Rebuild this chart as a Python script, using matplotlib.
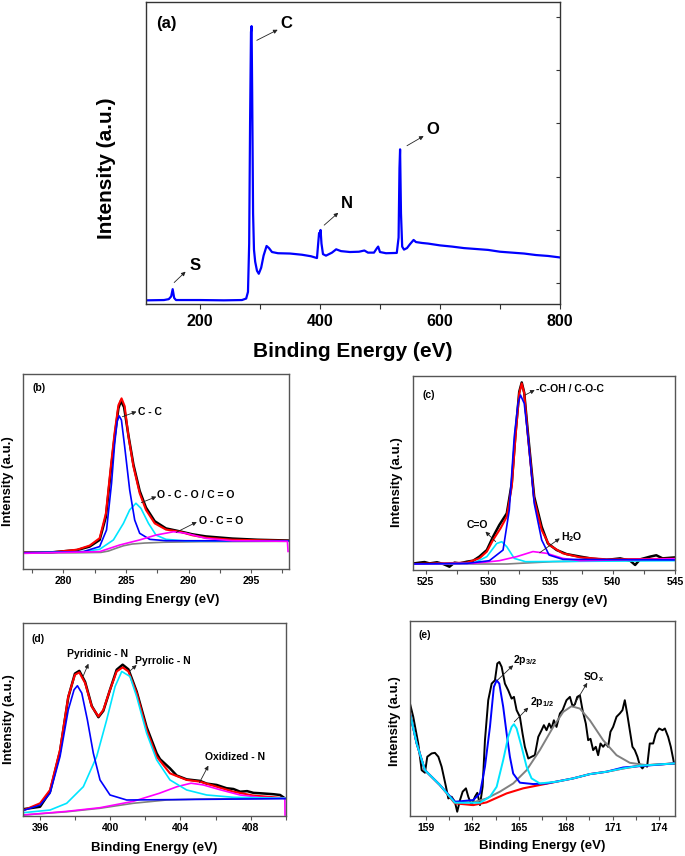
import matplotlib.pyplot as plt

plt.rcParams['font.family'] = ['Liberation Sans', 'DejaVu Sans']
plt.rcParams['font.weight'] = 'bold'
plt.rcParams['mathtext.fontset'] = 'custom'
plt.rcParams['mathtext.rm'] = 'Liberation Sans:bold'
plt.rcParams['mathtext.bf'] = 'Liberation Sans:bold'
plt.rcParams['mathtext.default'] = 'bf'

# ---- (a) survey spectrum: (binding energy, intensity) ----
survey = [(110, 1.2), (140, 1.3), (148, 1.6), (152, 2.5), (154.5, 4.9), (157, 2.0), (160, 1.3),
          (200, 1.3), (240, 1.2), (270, 1.3), (277, 1.8), (280, 4), (282, 20), (283.5, 60),
          (285, 90), (286, 92), (287, 70), (288.5, 30), (290, 18), (292, 14), (295, 11),
          (298, 10), (302, 12), (306, 16), (311, 19.2), (315, 18.5), (320, 17.2), (330, 16.8),
          (350, 16.7), (370, 16.3), (385, 15.8), (395, 15.2), (397, 20), (398.5, 23.5),
          (400, 22.5), (401, 24.5), (402.5, 20), (405, 16.5), (410, 16.0), (420, 17.0),
          (427, 18.1), (435, 17.5), (450, 17.2), (465, 17.3), (474, 17.7), (480, 17.0),
          (490, 17.0), (495, 18.5), (497, 19.0), (500, 17.2), (510, 16.8), (528, 16.9),
          (531, 22), (532.5, 45), (533.5, 51.2), (535, 30), (537, 19), (540, 18.0),
          (545, 18.5), (550, 19.8), (556, 21.2), (560, 20.5), (570, 20.2), (580, 20.0),
          (600, 19.4), (620, 19.0), (640, 18.5), (660, 18.2), (680, 17.9), (700, 17.3),
          (720, 17.0), (740, 16.7), (760, 16.2), (780, 15.9), (800, 15.4)]
survey_yticks = [6.8, 24.5, 42.1, 59.8, 77.4, 95.1]

# ---- (b) C 1s ----
b_black = [(276.8, 8.4), (279, 8.5), (281.1, 9.7), (282.1, 11.5), (282.9, 14.9), (283.4, 26.8),
           (283.8, 50.8), (284.1, 67.9), (284.4, 82.4), (284.6, 86.2), (284.85, 83.0), (285.2, 68.5),
           (285.6, 53.5), (286.1, 40.0), (286.6, 31.5), (287.3, 24.5), (288.2, 20.8), (289.3, 19.3),
           (290.3, 17.8), (291.4, 16.7), (293.5, 15.6), (295.5, 15.0), (298, 14.6)]
b_red = [(276.8, 8.4), (279, 8.5), (281.1, 9.9), (282.1, 12.0), (282.9, 15.8), (283.4, 28.5),
         (283.8, 53.0), (284.1, 70.0), (284.4, 84.0), (284.65, 87.5), (284.9, 83.5), (285.2, 68.0),
         (285.6, 52.5), (286.1, 38.8), (286.6, 30.3), (287.3, 23.4), (288.2, 20.2), (289.3, 19.1),
         (290.3, 17.3), (291.4, 16.0), (293.5, 15.0), (298, 14.4)]
b_blue = [(276.8, 8.3), (281.6, 8.9), (282.9, 11.5), (283.45, 20.0), (283.85, 43.9), (284.1, 64.4),
          (284.3, 75.6), (284.46, 78.5), (284.64, 76.4), (284.9, 62.7), (285.3, 40.5), (285.7, 25.1),
          (286.1, 18.3), (286.9, 15.2), (288.2, 14.5), (298, 14.4)]
b_cyan = [(276.8, 8.3), (281.6, 8.9), (282.9, 10.1), (284.0, 14.9), (284.8, 23.4), (285.3, 30.3),
          (285.8, 33.7), (286.2, 31.1), (286.8, 23.4), (287.4, 17.4), (288.2, 15.2), (289.8, 14.4),
          (298, 14.4)]
b_magenta = [(276.8, 8.0), (282.9, 8.9), (284.5, 12.3), (286.1, 14.9), (287.4, 17.4), (288.8, 19.1),
             (289.8, 18.3), (291.4, 15.7), (293.5, 14.5), (297.9, 14.2), (297.95, 9.0)]
b_gray = [(276.8, 8.3), (281, 8.3), (283.0, 8.5), (283.6, 9.2), (284.2, 10.6), (284.8, 11.9),
          (285.5, 12.8), (286.5, 13.3), (288, 13.7), (291, 14.0), (298, 14.2)]

# ---- (c) O 1s ----
c_black = [(524.04, 3.4), (524.5, 3.8), (524.9, 4.1), (525.3, 3.4), (525.9, 4.0), (526.4, 3.1),
           (526.9, 1.7), (527.3, 3.8), (527.7, 3.4), (528.3, 4.3), (528.8, 4.8), (529.3, 6.9),
           (529.9, 10.3), (530.4, 17.2), (530.9, 23.2), (531.5, 29.2), (531.9, 44.7), (532.2, 70.4),
           (532.5, 91.9), (532.7, 96.7), (532.9, 91.4), (533.2, 70.4), (533.7, 37.8), (534.3, 22.3),
           (534.8, 13.7), (535.5, 10.3), (536.3, 8.2), (537.4, 6.9), (538.4, 5.8), (539.5, 5.2),
           (540.6, 6.0), (541.4, 4.8), (541.8, 2.6), (542.2, 5.5), (543.0, 6.9), (543.5, 7.6),
           (544.0, 6.0), (545, 6.5)]
c_red = [(524, 3.1), (528.3, 3.8), (529.3, 6.0), (529.9, 9.5), (530.4, 15.5), (531, 21.5),
         (531.5, 27.5), (531.9, 43.0), (532.2, 68.7), (532.5, 91.1), (532.7, 96.2), (532.9, 91.1),
         (533.2, 68.7), (533.7, 36.1), (534.3, 20.6), (534.9, 12.9), (536, 8.6), (537.4, 6.5),
         (539.5, 5.5), (545, 5.8)]
c_blue = [(524, 3.1), (528.3, 3.4), (530.1, 4.8), (531.2, 10.3), (531.7, 30.9), (532.1, 68.7),
          (532.4, 85.9), (532.6, 90.2), (532.9, 85.9), (533.2, 68.7), (533.7, 34.4), (534.3, 15.5),
          (534.9, 7.7), (536, 5.5), (545, 5.2)]
c_cyan = [(524, 3.1), (528.8, 3.4), (529.9, 6.9), (530.7, 13.7), (531.1, 14.6), (531.5, 12.0),
          (532.1, 6.0), (533.0, 4.3), (545, 4.8)]
c_magenta = [(524, 3.1), (528.8, 3.4), (530.9, 4.8), (532.3, 6.9), (533.6, 9.5), (534.7, 8.6),
             (536, 6.0), (537.4, 4.8), (545, 5.8)]
c_gray = [(524, 3.1), (531.5, 3.1), (533, 3.6), (535.2, 4.3), (540, 4.9), (545, 5.2)]

# ---- (d) N 1s ----
d_black = [(395, 3.5), (395.99, 4.8), (396.56, 12.6), (397.13, 33.5), (397.6, 61.5), (397.98, 73.8),
           (398.23, 75.2), (398.56, 69.5), (398.94, 57.0), (399.32, 51.2), (399.6, 54.5),
           (399.98, 65.4), (400.36, 75.8), (400.7, 78.4), (401.03, 76.0), (401.5, 64.5),
           (402.07, 46.0), (402.64, 32.5), (402.83, 29.5), (403.4, 24.7), (403.78, 21.0),
           (404.35, 19.0), (405.11, 18.2), (405.49, 16.8), (406.06, 16.1), (406.63, 14.4),
           (407.02, 14.0), (407.4, 12.6), (407.8, 12.9), (408.16, 12.0), (408.54, 11.8),
           (409.0, 11.5), (409.3, 11.3), (409.68, 10.9), (409.9, 9.5)]
d_red = [(395, 2.8), (395.99, 6.6), (396.56, 13.5), (397.13, 34.3), (397.6, 61.9), (397.98, 73.2),
         (398.23, 74.4), (398.56, 68.9), (398.94, 56.7), (399.32, 51.6), (399.6, 55.0), (399.98, 65.4),
         (400.36, 74.9), (400.7, 77.0), (401.03, 74.9), (401.5, 63.7), (402.07, 44.6), (402.64, 30.8),
         (403.4, 22.1), (404.35, 18.7), (405.11, 17.8), (406.06, 15.2), (407.02, 12.6),
         (408.16, 10.6), (410, 9.2)]
d_blue = [(395, 2.8), (396.0, 5.7), (396.56, 11.8), (397.13, 30.8), (397.6, 55.0), (397.93, 65.4),
          (398.12, 67.5), (398.37, 63.7), (398.69, 49.8), (399.03, 32.5), (399.41, 18.7),
          (399.98, 10.9), (400.93, 8.3), (410, 9.0)]
d_cyan = [(395, 1.7), (396.56, 3.1), (397.51, 6.6), (398.46, 15.2), (399.22, 30.8), (399.79, 49.8),
          (400.27, 67.1), (400.65, 74.9), (401.12, 72.3), (401.5, 61.9), (402.07, 42.9),
          (402.64, 29.1), (403.4, 18.7), (404.35, 13.5), (405.49, 10.9), (407.02, 9.7), (410, 9.2)]
d_magenta = [(395, 0.5), (397.5, 2.4), (399.4, 4.3), (401.3, 7.6), (402.8, 11.8), (403.8, 15.2),
             (404.6, 17.0), (405.3, 16.1), (406.3, 13.5), (407.4, 10.9), (408.5, 9.7),
             (409.95, 9.2), (409.96, 0.5)]
d_gray = [(395, 0.5), (397.5, 2.2), (399.4, 4.0), (401.3, 6.6), (403.2, 8.3), (405.1, 8.8), (410, 9.2)]

# ---- (e) S 2p ----
e_black = [(158.0, 57.7), (158.21, 50.9), (158.53, 37.2), (158.75, 23.5), (158.96, 22.2),
           (159.11, 30.4), (159.39, 32.1), (159.6, 32.4), (159.82, 30.4), (160.03, 25.3),
           (160.31, 15.0), (160.46, 9.0), (160.67, 9.9), (160.88, 7.3), (161.03, 2.2),
           (161.21, 8.2), (161.38, 12.5), (161.59, 14.2), (161.74, 9.9), (161.95, 5.6),
           (162.17, 9.9), (162.32, 11.9), (162.49, 5.6), (162.66, 15.0), (162.81, 38.9),
           (163.02, 59.4), (163.24, 67.9), (163.45, 69.6), (163.6, 78.2), (163.73, 79.0),
           (163.88, 76.5), (164.09, 67.9), (164.3, 64.5), (164.52, 60.2), (164.67, 61.1),
           (164.84, 54.3), (165.05, 50.9), (165.22, 42.3), (165.37, 35.5), (165.59, 29.5),
           (165.8, 30.4), (166.01, 31.2), (166.23, 40.6), (166.44, 44.0), (166.59, 46.6),
           (166.76, 44.0), (166.93, 47.4), (167.08, 44.9), (167.23, 49.1), (167.4, 45.7),
           (167.62, 52.6), (167.79, 54.3), (168.04, 59.4), (168.26, 61.1), (168.43, 56.3),
           (168.58, 57.3), (168.73, 61.1), (168.9, 61.9), (169.07, 54.3), (169.28, 47.4),
           (169.43, 38.9), (169.58, 39.6), (169.75, 33.8), (169.92, 35.5), (170.07, 31.2),
           (170.22, 37.2), (170.39, 35.5), (170.56, 37.2), (170.71, 35.5), (170.86, 43.2),
           (171.03, 45.7), (171.25, 50.9), (171.46, 52.6), (171.63, 54.3), (171.78, 59.4),
           (171.93, 52.6), (172.1, 44.0), (172.27, 35.5), (172.42, 33.8), (172.59, 30.4),
           (172.74, 26.1), (172.91, 24.4), (173.06, 26.1), (173.21, 25.3), (173.38, 37.2),
           (173.6, 37.2), (173.77, 42.3), (173.98, 44.9), (174.2, 44.0), (174.35, 44.9),
           (174.56, 40.6), (174.73, 35.5), (174.94, 27.0)]
e_red = [(158, 52.6), (158.43, 37.2), (158.96, 23.5), (159.92, 15.9), (160.88, 6.5), (162.06, 5.6),
         (162.91, 7.0), (164.2, 11.6), (165.26, 14.2), (166.33, 15.9), (167.4, 17.6), (168.47, 19.3),
         (169.54, 21.5), (170.6, 22.7), (171.67, 24.4), (172.74, 25.8), (175, 27.0)]
e_gray = [(158, 52.6), (158.43, 37.2), (158.96, 23.5), (159.92, 15.9), (160.88, 7.3), (162.06, 7.0),
          (162.91, 9.0), (163.77, 12.5), (164.62, 16.7), (165.48, 23.5), (166.33, 33.8),
          (167.19, 45.7), (167.83, 53.4), (168.36, 56.3), (168.9, 55.1), (169.54, 49.1),
          (170.39, 38.9), (171.25, 31.2), (172.1, 27.3), (173.17, 26.1), (175, 27.0)]
e_blue = [(158, 52.6), (158.43, 37.2), (158.96, 23.5), (159.92, 15.9), (160.88, 7.3), (162.06, 8.2),
          (162.49, 11.6), (162.81, 25.3), (163.13, 45.7), (163.38, 66.2), (163.56, 69.6),
          (163.73, 67.9), (163.98, 56.0), (164.2, 42.3), (164.41, 30.4), (164.62, 21.8),
          (165.05, 17.1), (165.9, 16.4), (166.76, 16.7), (168.47, 19.3), (169.54, 21.5),
          (170.6, 22.7), (171.67, 24.9), (175, 27.0)]
e_cyan = [(158, 52.6), (158.43, 37.2), (158.96, 23.5), (159.92, 15.9), (160.88, 6.8), (162.49, 6.8),
          (163.13, 9.9), (163.56, 15.0), (163.98, 28.7), (164.3, 40.6), (164.52, 45.7),
          (164.67, 47.1), (164.84, 44.9), (165.16, 35.5), (165.48, 25.3), (165.8, 19.3),
          (166.33, 16.7), (167.4, 17.6), (168.47, 19.3), (169.54, 21.5), (170.6, 22.7),
          (171.67, 24.4), (172.74, 25.8), (175, 27.0)]

BLUE, CYAN, MAG, GRAY, RED = '#0000ff', '#00e5ff', '#ff00ff', '#808080', '#ff0000'


def line(ax, pts, color, lw=1.2):
    xs, ys = zip(*pts)
    ax.plot(xs, ys, color=color, lw=lw, solid_joinstyle='round')


def arrow(ax, start, end):
    ax.annotate('', xy=end, xytext=start,
                arrowprops=dict(arrowstyle='-|>', color='#222222', lw=0.6,
                                mutation_scale=6, shrinkA=0, shrinkB=0))


def frame(ax, xlim, major, minor, tick_fs, lab_fs, ylab_x, ylab_y, xlab_y, spine='#555555'):
    ax.set_xlim(*xlim)
    ax.set_ylim(0, 100)
    ax.set_xticks(major)
    ax.set_xticks(minor, minor=True)
    ax.set_yticks([])
    for s in ax.spines.values():
        s.set_color(spine)
        s.set_linewidth(1.0)
    ax.tick_params(axis='x', which='both', direction='out', length=3, width=0.8,
                   color=spine, labelsize=tick_fs, pad=2)
    for t in ax.get_xticklabels():
        t.set_fontweight('bold')
    ax.set_xlabel('Binding Energy (eV)', fontsize=lab_fs, fontweight='bold')
    ax.set_ylabel('Intensity (a.u.)', fontsize=lab_fs, fontweight='bold')
    ax.xaxis.set_label_coords(0.5, xlab_y)
    ax.yaxis.set_label_coords(ylab_x, ylab_y)


fig = plt.figure(figsize=(6.85, 8.56), dpi=100)

# panel (a)
ax = fig.add_axes([0.2131, 0.6449, 0.6044, 0.3528])
line(ax, survey, BLUE, lw=1.6)
frame(ax, (110, 800), [200, 400, 600, 800], [300, 500, 700], 11.5, 15, -0.073, 0.45, -0.125,
      spine='#333333')
ax.tick_params(axis='x', which='both', length=3.5, pad=4)
ax.set_yticks(survey_yticks)
ax.tick_params(axis='y', left=False, right=True, labelleft=False, direction='in',
               length=3, width=0.8, color='#333333')
ax.text(0.025, 0.928, '(a)', transform=ax.transAxes, fontsize=12, fontweight='bold', va='center')
for lab, x, y, s, e in [('C', 334.5, 92.8, (294.7, 87.3), (329.5, 90.8)),
                        ('O', 577.7, 57.8, (545, 52.4), (572.8, 55.6)),
                        ('N', 435, 33.3, (407, 26.1), (430.5, 30.2)),
                        ('S', 182, 12.7, (157, 7.1), (176, 10.7))]:
    ax.text(x, y, lab, fontsize=12, fontweight='bold', va='center', ha='left')
    arrow(ax, s, e)

# panel (b)
ax = fig.add_axes([0.0340, 0.3353, 0.3874, 0.2278])
line(ax, b_black, 'black', lw=1.8)
line(ax, b_red, RED, lw=1.5)
line(ax, b_gray, GRAY, lw=1.2)
line(ax, b_cyan, CYAN)
line(ax, b_blue, BLUE)
line(ax, b_magenta, MAG)
frame(ax, (276.8, 298), [280, 285, 290, 295], [277.5, 282.5, 287.5, 292.5, 297.5],
      7.5, 9.5, -0.035, 0.45, -0.13)
ax.text(0.034, 0.927, '(b)', transform=ax.transAxes, fontsize=7.5, fontweight='bold', va='center')
ax.text(285.97, 80.7, 'C - C', fontsize=7.5, fontweight='bold', va='center')
arrow(ax, (284.72, 78.1), (285.84, 80.7))
ax.text(287.48, 37.9, 'O - C - O / C = O', fontsize=7.5, fontweight='bold', va='center')
arrow(ax, (286.23, 34.0), (287.43, 37.1))
ax.text(290.8, 24.8, 'O - C = O', fontsize=7.5, fontweight='bold', va='center')
arrow(ax, (289.02, 18.8), (290.66, 24.1))

# panel (c)
ax = fig.add_axes([0.6034, 0.3341, 0.3820, 0.2266])
line(ax, c_black, 'black', lw=1.8)
line(ax, c_red, RED, lw=1.5)
line(ax, c_gray, GRAY)
line(ax, c_cyan, CYAN)
line(ax, c_magenta, MAG)
line(ax, c_blue, BLUE)
frame(ax, (524, 545), [525, 530, 535, 540, 545], [527.5, 532.5, 537.5, 542.5],
      7.5, 9.5, -0.038, 0.455, -0.13)
ax.text(0.036, 0.902, '(c)', transform=ax.transAxes, fontsize=7.5, fontweight='bold', va='center')
ax.text(533.88, 93.1, '-C-OH / C-O-C', fontsize=7.5, fontweight='bold', va='center')
arrow(ax, (532.97, 90.2), (533.74, 92.8))
ax.text(528.26, 23.2, 'C=O', fontsize=7.5, fontweight='bold', va='center')
arrow(ax, (530.61, 14.6), (529.79, 19.8))
ax.text(535.88, 17.2, 'H$_2$O', fontsize=7.5, fontweight='bold', va='center')
arrow(ax, (534.14, 8.9), (535.75, 16.3))

# panel (d)
ax = fig.add_axes([0.0331, 0.0467, 0.3840, 0.2255])
line(ax, d_black, 'black', lw=1.8)
line(ax, d_red, RED, lw=1.5)
line(ax, d_gray, GRAY)
line(ax, d_magenta, MAG)
line(ax, d_cyan, CYAN)
line(ax, d_blue, BLUE)
frame(ax, (395, 410), [396, 400, 404, 408], [398, 402, 406, 410],
      7.5, 9.5, -0.029, 0.50, -0.135)
ax.text(0.034, 0.917, '(d)', transform=ax.transAxes, fontsize=7.5, fontweight='bold', va='center')
ax.text(397.51, 83.9, 'Pyridinic - N', fontsize=7.5, fontweight='bold', va='center')
arrow(ax, (398.46, 72.7), (398.75, 78.9))
ax.text(401.41, 80.1, 'Pyrrolic - N', fontsize=7.5, fontweight='bold', va='center')
arrow(ax, (401.08, 74.9), (401.5, 78.2))
ax.text(405.4, 30.8, 'Oxidized - N', fontsize=7.5, fontweight='bold', va='center')
arrow(ax, (405.08, 17.3), (405.59, 26.1))

# panel (e)
ax = fig.add_axes([0.5985, 0.0467, 0.3869, 0.2278])
line(ax, e_black, 'black', lw=1.4)
line(ax, e_red, RED, lw=1.5)
line(ax, e_gray, GRAY, lw=1.4)
line(ax, e_blue, BLUE, lw=1.4)
line(ax, e_cyan, CYAN, lw=1.4)
frame(ax, (158, 175), [159, 162, 165, 168, 171, 174], [160.5, 163.5, 166.5, 169.5, 172.5],
      7.5, 9.5, -0.035, 0.485, -0.123)
ax.text(0.034, 0.927, '(e)', transform=ax.transAxes, fontsize=7.5, fontweight='bold', va='center')
ax.text(164.62, 79.9, '2p$_{3/2}$', fontsize=7.5, fontweight='bold', va='center')
arrow(ax, (163.6, 69.6), (164.62, 77.3))
ax.text(165.69, 58.5, '2p$_{1/2}$', fontsize=7.5, fontweight='bold', va='center')
arrow(ax, (164.69, 48.3), (165.59, 55.6))
ax.text(169.11, 71.3, 'SO$_x$', fontsize=7.5, fontweight='bold', va='center')
arrow(ax, (168.47, 56.3), (169.37, 68.3))

fig.savefig('out.png', dpi=100)
